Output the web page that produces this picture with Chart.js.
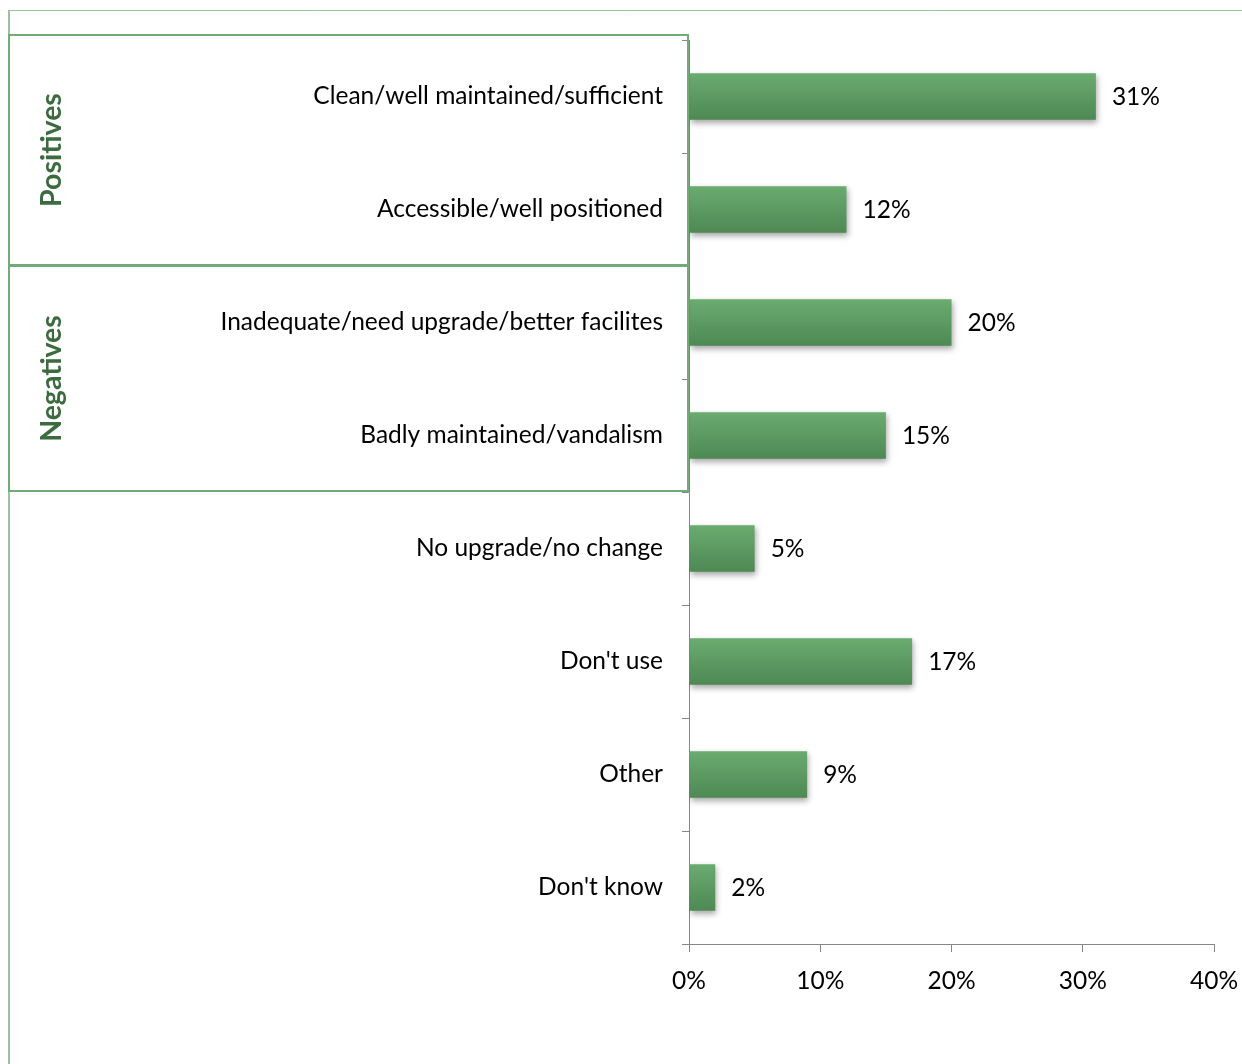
<!DOCTYPE html>
<html>
<head>
<meta charset="utf-8">
<script src="https://cdn.jsdelivr.net/npm/chart.js@4.4.1/dist/chart.umd.min.js"></script>
<style>
  html, body { margin: 0; padding: 0; background: #ffffff; }
  #wrap { width: 1242px; height: 1064px; position: relative; }
</style>
</head>
<body>
<div id="wrap"><canvas id="chart" width="1242" height="1064"></canvas></div>
<script>
// Survey responses: share of respondents per comment type
const categories = [
  'Clean/well maintained/sufficient',
  'Accessible/well positioned',
  'Inadequate/need upgrade/better facilites',
  'Badly maintained/vandalism',
  'No upgrade/no change',
  "Don't use",
  'Other',
  "Don't know"
];
const percentValues = [31, 12, 20, 15, 5, 17, 9, 2];
const xTickValues = [0, 10, 20, 30, 40];

// Groupings drawn as framed bands beside the category labels
const groupNames = ['Positives', 'Negatives'];
const groupRanges = [[0, 1], [2, 3]];

const FONT = 'Lato, "Open Sans", sans-serif';
const LABEL_SIZE = 24.5;
const AXIS_GRAY = '#868686';
const BOX_GREEN = '#74aa78';
const FRAME_GREEN = '#9cc19e';
const GROUP_TEXT = '#3b6b3e';

function barGradient(context) {
  const chart = context.chart;
  const yScale = chart.scales.y;
  if (!chart.chartArea || !yScale || context.dataIndex === undefined) return '#5c9a62';
  const center = yScale.getPixelForValue(context.dataIndex);
  const half = 23;
  const g = chart.ctx.createLinearGradient(0, center - half, 0, center + half);
  g.addColorStop(0, '#6aab6f');
  g.addColorStop(1, '#4e8954');
  return g;
}

// Frame lines, group boxes and group titles
const framePlugin = {
  id: 'frame',
  beforeDraw(chart) {
    const ctx = chart.ctx;
    ctx.save();
    ctx.strokeStyle = FRAME_GREEN;
    ctx.lineWidth = 1;
    ctx.beginPath();
    ctx.moveTo(9, 10.5);
    ctx.lineTo(chart.width, 10.5);
    ctx.stroke();
    ctx.lineWidth = 2;
    ctx.beginPath();
    ctx.moveTo(9, 10);
    ctx.lineTo(9, chart.height);
    ctx.stroke();
    ctx.restore();
  },
  afterDraw(chart) {
    const ctx = chart.ctx;
    const y = chart.scales.y;
    const step = y.getPixelForValue(1) - y.getPixelForValue(0);
    const left = 9;
    const right = chart.chartArea.left - 1;
    ctx.save();
    groupRanges.forEach((range, i) => {
      let top = y.getPixelForValue(range[0]) - step / 2;
      const bottom = y.getPixelForValue(range[1]) + step / 2 - 1;
      if (i === 0) top -= 5;
      ctx.strokeStyle = BOX_GREEN;
      ctx.lineWidth = 2;
      ctx.strokeRect(left, top, right - left, bottom - top);
      ctx.fillStyle = GROUP_TEXT;
      ctx.font = 'bold 28.5px ' + FONT;
      ctx.textAlign = 'center';
      ctx.textBaseline = 'middle';
      ctx.save();
      ctx.translate(left + 43, (top + bottom) / 2);
      ctx.rotate(-Math.PI / 2);
      ctx.fillText(groupNames[i], 0, 0);
      ctx.restore();
    });
    ctx.restore();
  }
};

// Soft drop shadow under the bars
const shadowPlugin = {
  id: 'barShadow',
  beforeDatasetsDraw(chart) {
    const ctx = chart.ctx;
    ctx.save();
    ctx.shadowColor = 'rgba(0,0,0,0.35)';
    ctx.shadowBlur = 6;
    ctx.shadowOffsetX = 1;
    ctx.shadowOffsetY = 3;
  },
  afterDatasetsDraw(chart) {
    chart.ctx.restore();
  }
};

// Value labels to the right of each bar
const valueLabelPlugin = {
  id: 'valueLabels',
  afterDraw(chart) {
    const ctx = chart.ctx;
    const meta = chart.getDatasetMeta(0);
    ctx.save();
    ctx.fillStyle = '#000000';
    ctx.font = LABEL_SIZE + 'px ' + FONT;
    ctx.textAlign = 'left';
    ctx.textBaseline = 'middle';
    meta.data.forEach((bar, i) => {
      ctx.fillText(percentValues[i] + '%', bar.x + 16, bar.y + 1);
    });
    ctx.restore();
  }
};

new Chart(document.getElementById('chart'), {
  type: 'bar',
  data: {
    labels: categories,
    datasets: [{
      data: percentValues,
      backgroundColor: barGradient,
      borderWidth: 0,
      categoryPercentage: 1,
      barPercentage: 0.41
    }]
  },
  options: {
    indexAxis: 'y',
    responsive: false,
    animation: false,
    layout: { padding: { top: 40, right: 28, left: 0, bottom: 0 } },
    plugins: {
      legend: { display: false },
      tooltip: { enabled: false }
    },
    scales: {
      x: {
        min: 0,
        max: 40,
        afterBuildTicks(scale) { scale.ticks = xTickValues.map(v => ({ value: v })); },
        afterFit(scale) {
          scale.height = 120;
          scale.paddingLeft = 0;
          scale.paddingRight = 0;
        },
        grid: { drawOnChartArea: false, tickLength: 8, color: AXIS_GRAY },
        border: { color: AXIS_GRAY },
        ticks: {
          padding: 14,
          maxRotation: 0,
          color: '#000000',
          font: { family: FONT, size: LABEL_SIZE },
          callback: v => v + '%'
        }
      },
      y: {
        afterFit(scale) { scale.width = 689; },
        grid: { drawOnChartArea: false, offset: true, tickLength: 7, color: AXIS_GRAY },
        border: { color: AXIS_GRAY },
        ticks: {
          padding: 19,
          color: '#000000',
          font: { family: FONT, size: LABEL_SIZE }
        }
      }
    }
  },
  plugins: [framePlugin, shadowPlugin, valueLabelPlugin]
});
</script>
</body>
</html>
